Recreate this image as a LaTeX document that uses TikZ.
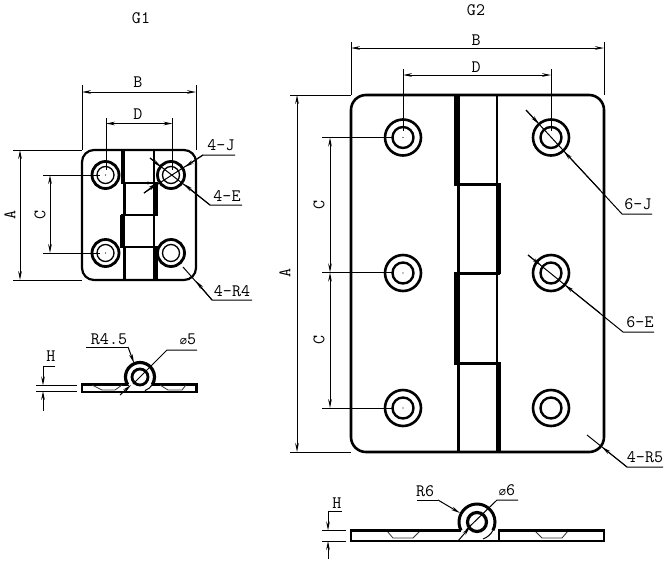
\documentclass[tikz,border=0pt]{standalone}
\usepackage{fontspec}
\setmonofont{Latin Modern Mono}
\newfontfamily\symfont{DejaVu Sans}
\usetikzlibrary{arrows.meta}
\tikzset{
  x=1pt,y=-1pt,
  part/.style={line width=2.2pt,black},
  ring/.style={line width=2.8pt,black,fill=white},
  wall/.style={line width=5.5pt,black,line cap=butt},
  slim/.style={line width=2.2pt,black},
  dim/.style={line width=1pt,black},
  span/.style={dim,{Stealth[length=9pt,width=3.6pt]}-{Stealth[length=9pt,width=3.6pt]}},
  tipend/.style={dim,-{Stealth[length=9pt,width=3.6pt]}},
  hid/.style={line width=0.8pt,black!80},
  lbl/.style={inner sep=0pt,font=\ttfamily\fontsize{17.5}{17.5}\selectfont},
  lblv/.style={lbl,rotate=90},
}
\begin{document}
\begin{tikzpicture}
\useasboundingbox (0,0) rectangle (666,560);
\fill[white] (0,0) rectangle (666,560);
% --- G1 plan
\draw[part,rounded corners=12pt] (82,150) rectangle (196,280);
\foreach \n/\a/\b in {a/105.5/175,b/171/175,c/105.5/253,d/171/253}{
  \coordinate (g1\n) at (\a,\b);
  \draw[ring] (g1\n) circle (13.5);
  \draw[line width=1.3pt] (g1\n) circle (8.5);
}
\foreach \n in {a,c}{\fill (g1\n) circle (0.7);}
\draw[wall,line width=4.5pt] (123,150)--(123,183) (122.5,215)--(122.5,248);
\draw[wall,line width=4.5pt] (155.5,183)--(155.5,215) (155.5,247)--(155.5,280);
\draw[slim] (154,150)--(154,183) (124.5,183)--(124.5,215) (154,215)--(154,248) (124.5,247)--(124.5,280);
\draw[line width=2.6pt] (121,183)--(158,183) (121,215)--(158,215) (121,247)--(158,247);
% G1 dims
\coordinate (g1tl) at (82,150); \coordinate (g1tr) at (196,150); \coordinate (g1bl) at (82,280);
\draw[dim] (82,85)--(g1tl) (196,85)--(g1tr) (106,118)--(106,170) (172.5,118)--(172.5,170);
\draw[span] (82,92)--(196,92);
\draw[span] (106,123.5)--(172.5,123.5);
\draw[dim] (13,150)--(g1tl) (13,280)--(g1bl);
\draw[span] (20,150)--(20,280);
\draw[dim] (43,175)--(100,175) (43,253)--(100,253);
\draw[span] (50,175)--(50,253);
\node[lbl] (tg1) at (141,18) {G1};
\node[lbl] (lb1) at (138,82) {B};
\node[lbl] (ld1) at (138,114) {D};
\node[lblv] (la1) at (10,215) {A};
\node[lblv] (lc1) at (40,215) {C};
\node[lbl] (lj1) at (221,145) {4-J};
\node[lbl] (le1) at (227,196) {4-E};
\node[lbl] (lr1) at (232,291) {4-R4};
\draw[dim] (235,155)--(203,155)--(144,193);
\draw[tipend] (203,155)--(185,167);
\draw[tipend] (144,193)--(157,183);
\draw[dim] (242,205)--(210,205)--(150,158);
\draw[tipend] (210,205)--(184,184);
\draw[tipend] (150,158)--(161,167);
\draw[dim] (252,300)--(212,300)--(183,267);
\draw[tipend] (212,300)--(196,281);
\fill (148,183) circle (1.6);
% --- G1 side
\draw[part,fill=white] (82,384.5) rectangle (196.5,392);
\draw[hid] (92,385)--(102,390)--(115,390)--(122,385) (160,385)--(168,390)--(182,390)--(186,385);
\fill[white] (140,377) circle (14);
\draw[line width=1.4pt] (127,392)--(150,392);
\draw[line width=1pt] ([shift={(140,377)}]30:14.5) arc (30:70:14.5);
\draw[line width=3.2pt] ([shift={(140,377)}]149:14.5) arc (149:391:14.5);
\draw[ring] (140,377) circle (8);
\coordinate (g1h) at (43,366);
\draw[dim] (36,385.5)--(77,385.5) (36,391)--(77,391);
\draw[dim] (55,366)--(g1h);
\draw[tipend] (g1h)--(43,385.5);
\draw[tipend] (43,411)--(43,391);
\node[lbl] (lh1) at (51,356) {H};
\node[lbl] (l451) at (109,339) {R4.5};
\node[lbl] (lp1) at (188,339) {{\symfont\fontsize{12}{12}\selectfont ⌀}5};
\draw[dim] (86,347)--(128,347);
\draw[tipend] (128,347)--(134,363);
\draw[dim] (197,350)--(167,350)--(133,384);
\draw[tipend] (120,395)--(131,385);
% --- G2 plan
\draw[part,line width=2.6pt,rounded corners=15pt] (351,95) rectangle (604,452);
\foreach \n/\a/\b in {a/403/137.5,b/551/137.5,c/403/273,d/551/273,e/403/408,f/551/408}{
  \coordinate (g2\n) at (\a,\b);
  \draw[ring,line width=2.6pt] (g2\n) circle (18);
  \draw[line width=2.4pt] (g2\n) circle (10.5);
}
\foreach \n in {a,c,e}{\fill (g2\n) circle (0.7);}
\draw[wall] (457,95)--(457,186) (457,272)--(457,365);
\draw[wall] (498.5,183)--(498.5,274) (498.5,362)--(498.5,452);
\draw[slim] (497,95)--(497,184) (458.5,184)--(458.5,273) (497,273)--(497,363) (458.5,363)--(458.5,452);
\draw[line width=3pt] (455,184)--(500,184) (455,273)--(500,273) (455,363)--(500,363);
% G2 dims
\coordinate (g2tl) at (351,95); \coordinate (g2tr) at (604,95); \coordinate (g2bl) at (351,452);
\draw[dim] (351,42)--(g2tl) (604,42)--(g2tr) (403,69)--(403,131) (551,69)--(551,131);
\draw[span] (351,48)--(604,48);
\draw[span] (403,75)--(551,75);
\draw[dim] (290,95)--(g2tl) (290,452)--(g2bl);
\draw[span] (297,95)--(297,452);
\draw[dim] (322,137.5)--(392,137.5) (322,272.5)--(392,272.5) (322,408)--(392,408);
\draw[span] (330,137.5)--(330,272.5);
\draw[span] (330,272.5)--(330,408);
\node[lbl] (tg2) at (476,10) {G2};
\node[lbl] (lb2) at (476,40) {B};
\node[lbl] (ld2) at (476,67) {D};
\node[lblv] (la2) at (285,273) {A};
\node[lblv] (lc2a) at (319,205) {C};
\node[lblv] (lc2b) at (319,340) {C};
\node[lbl] (lj2) at (638,204) {6-J};
\node[lbl] (le2) at (640,322) {6-E};
\node[lbl] (lr2) at (645,457) {4-R5};
\draw[dim] (652,214)--(622,214)--(526,110);
\draw[tipend] (526,110)--(539,124);
\draw[tipend] (600,190)--(564,151.5);
\draw[dim] (654,332)--(623,332)--(528,255);
\draw[tipend] (528,255)--(541,265.5);
\draw[tipend] (600,313)--(565,285);
\draw[dim] (663,467)--(627,467)--(587,435);
\draw[tipend] (627,467)--(602,447);
% --- G2 side
\draw[hid] (387,531)--(393,538)--(413,538)--(420,531) (535,531)--(542,538)--(562,538)--(568,531);
\draw[line width=2.6pt] (461,530.5)--(351,530.5)--(351,541)--(499,541)--(499,530.5)--(604,530.5)--(604,541)--(499,541);
\draw[line width=1pt] ([shift={(477,522)}]28:18) arc (28:70:18);
\draw[line width=3pt] ([shift={(477,522)}]152:18) arc (152:388:18);
\draw[ring,line width=3.2pt] (477,522) circle (9.5);
\coordinate (g2h) at (328,511);
\draw[dim] (322,530.5)--(346,530.5) (322,541)--(346,541);
\draw[dim] (342,511)--(g2h);
\draw[tipend] (g2h)--(328,530.5);
\draw[tipend] (328,559)--(328,541);
\node[lbl] (lh2) at (337,503) {H};
\node[lbl] (lr6) at (425,491) {R6};
\node[lbl] (lp2) at (507,490) {{\symfont\fontsize{12}{12}\selectfont ⌀}6};
\draw[dim] (417,500)--(438,500);
\draw[tipend] (438,500)--(460,513);
\draw[dim] (518,500)--(497,500)--(466,530);
\draw[tipend] (458,541)--(470,527);
\end{tikzpicture}
\end{document}
